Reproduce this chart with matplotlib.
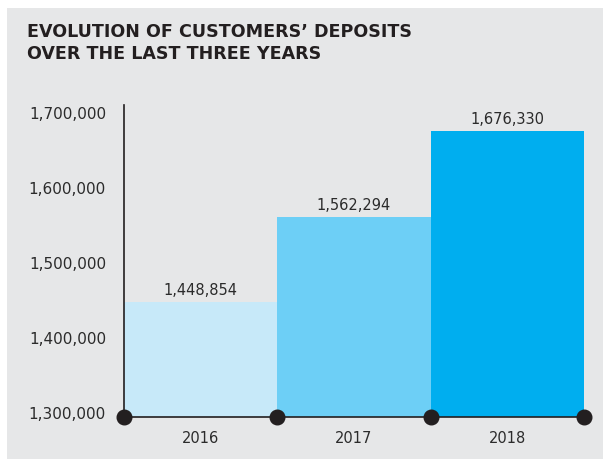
import matplotlib.pyplot as plt
from matplotlib.patches import Rectangle

years = ["2016", "2017", "2018"]
deposits = [1448854, 1562294, 1676330]
bar_colors = ["#c7e9f9", "#6dcff6", "#00aeef"]
y_ticks = [1300000, 1400000, 1500000, 1600000, 1700000]
title_lines = ["EVOLUTION OF CUSTOMERS’ DEPOSITS", "OVER THE LAST THREE YEARS"]

BG = "#e6e7e8"
INK = "#231f20"
TXT = "#2b2b2b"
FONT = "DejaVu Sans"

fig = plt.figure(figsize=(6.05, 4.59), dpi=100, facecolor="white")
# grey panel with a thin white margin on the top and sides
fig.patches.append(Rectangle((7 / 605, 0), 596 / 605, 1 - 8 / 459,
                             transform=fig.transFigure, facecolor=BG,
                             edgecolor="none", zorder=-10))

ax = fig.add_axes([124 / 605, 1 - 417 / 459, 460 / 605, 312 / 459])
ax.set_facecolor("none")

xs = range(len(years))
ax.bar(xs, deposits, width=1.0, align="edge", color=bar_colors, zorder=2)
for i, v in enumerate(deposits):
    ax.text(i + 0.5, v + 5000, f"{v:,}", ha="center", va="bottom",
            fontsize=10.5, color=TXT, family=FONT)
    ax.text(i + 0.5, 1266000, years[i], ha="center", va="center",
            fontsize=10.5, color=TXT, family=FONT)

ax.set_xlim(0, 3)
ax.set_ylim(1295000, 1711000)
ax.set_xticks([])
ax.set_yticks(y_ticks)
ax.set_yticklabels([f"{t:,}" for t in y_ticks], family=FONT, fontsize=11, color=TXT)
ax.tick_params(axis="y", length=0, pad=13)

for s in ["top", "right"]:
    ax.spines[s].set_visible(False)
ax.spines["left"].set_color(INK)
ax.spines["bottom"].set_color(INK)
ax.spines["left"].set_linewidth(1.2)
ax.spines["bottom"].set_linewidth(1.2)
ax.spines["bottom"].set_zorder(3)

# dots on the bar edges along the baseline
ax.plot([0, 1, 2, 3], [1295000] * 4, "o", color=INK, markersize=10.5,
        clip_on=False, zorder=4)

for k, line in enumerate(title_lines):
    fig.text(27 / 605, 1 - (37 + 22 * k) / 459, line, ha="left", va="baseline",
             fontsize=12.6, fontweight="bold", color=INK, family=FONT)

fig.savefig("out.png", dpi=100, facecolor="white")
